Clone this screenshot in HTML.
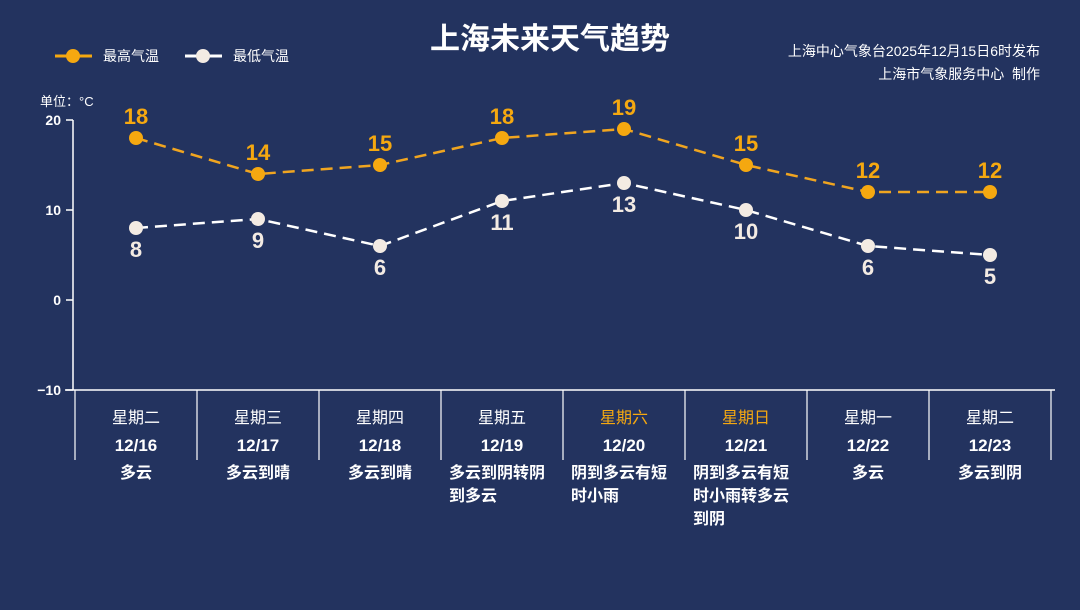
<!DOCTYPE html>
<html><head><meta charset="utf-8"><style>
body{margin:0;width:1080px;height:610px;background:#23335f;overflow:hidden;font-family:"Liberation Sans","Noto Sans CJK SC",sans-serif;color:#fff;position:relative}
.abs{position:absolute}
.col{position:absolute;width:122px;text-align:center}
.wx{position:absolute;width:122px;text-align:center;top:462px}
.wx span{display:inline-block;max-width:106px;text-align:left;font-weight:bold;font-size:16px;line-height:23px}
</style></head><body>
<div class="abs" style="left:0;width:1100px;top:14px;text-align:center;font-size:30px;font-weight:bold">上海未来天气趋势</div>
<div class="abs" style="right:40px;top:40px;text-align:right;font-size:14px;line-height:23px">上海中心气象台2025年12月15日6时发布<br>上海市气象服务中心&nbsp; 制作</div>
<div class="abs" style="left:40px;top:91px;font-size:13px">单位：°C</div>
<svg class="abs" style="left:0;top:0" width="1080" height="610" id="chart"></svg>
<div id="cols"></div>
<script>
const categories=["星期二","星期三","星期四","星期五","星期六","星期日","星期一","星期二"];
const dates=["12/16","12/17","12/18","12/19","12/20","12/21","12/22","12/23"];
const weather=["多云","多云到晴","多云到晴","多云到阴转阴到多云","阴到多云有短时小雨","阴到多云有短时小雨转多云到阴","多云","多云到阴"];
const highs=[18,14,15,18,19,15,12,12];
const lows=[8,9,6,11,13,10,6,5];
const yTicks=[20,10,0,-10];
const NS="http://www.w3.org/2000/svg";
const svg=document.getElementById('chart');
const X=i=>136+i*122;
const Y=v=>300-v*9;
function mk(t,a,p){const e=document.createElementNS(NS,t);for(const k in a)e.setAttribute(k,a[k]);(p||svg).appendChild(e);return e;}
// axes
const ax=mk('line',{x1:73,y1:120,x2:73,y2:390,stroke:'#fff','stroke-width':1.5});


const bx=mk('line',{x1:65,y1:390,x2:1055,y2:390,stroke:'#fff','stroke-width':1.5});


yTicks.forEach(v=>{
 mk('line',{x1:66,y1:Y(v),x2:73,y2:Y(v),stroke:'#fff','stroke-width':1.5});
 const t=mk('text',{x:61,y:Y(v)+5,'text-anchor':'end',fill:'#fff','font-size':14,'font-weight':'bold'});
 t.textContent=v===-10?'−10':v;
 
 
});
for(let i=0;i<=categories.length;i++){
 mk('line',{x1:75+i*122,y1:390,x2:75+i*122,y2:460,stroke:'#fff','stroke-width':1.2});
}
// legend
mk('line',{x1:55,y1:56,x2:92,y2:56,stroke:'#f5a810','stroke-width':3});
const lg1=mk('circle',{cx:73,cy:56,r:7,fill:'#f5a810'});


mk('text',{x:103,y:61,fill:'#fff','font-size':14}).textContent='最高气温';
mk('line',{x1:185,y1:56,x2:222,y2:56,stroke:'#fff','stroke-width':3});
const lg2=mk('circle',{cx:203,cy:56,r:7,fill:'#f3ebe3'});


mk('text',{x:233,y:61,fill:'#fff','font-size':14}).textContent='最低气温';
function series(vals,color,dot,name,above){
 const pl=mk('polyline',{points:vals.map((v,i)=>X(i)+','+Y(v)).join(' '),fill:'none',stroke:color,'stroke-width':2.5,'stroke-dasharray':'12 7'});
 
 
 vals.forEach((v,i)=>{
  const c=mk('circle',{cx:X(i),cy:Y(v),r:7,fill:dot});
  
  
  const t=mk('text',{x:X(i),y:above?Y(v)-14:Y(v)+29,'text-anchor':'middle',fill:above?'#f5a810':'#f3ebe3','font-size':22,'font-weight':'bold'});
  t.textContent=v;
  
  
 });
}
series(highs,'#f0a520','#f5a810','high-temp',true);
series(lows,'#fff','#f3ebe3','low-temp',false);
const cols=document.getElementById('cols');
categories.forEach((c,i)=>{
 const d=document.createElement('div');d.className='col';d.style.left=(75+i*122)+'px';d.style.top='404px';
 
 
 d.innerHTML='<div style="font-size:16px;color:'+(i==4||i==5?'#f5a810':'#fff')+'">'+c+'</div><div style="font-size:17px;font-weight:bold;margin-top:8px">'+dates[i]+'</div>';
 cols.appendChild(d);
 const w=document.createElement('div');w.className='wx';w.style.left=(75+i*122)+'px';
 
 
 w.innerHTML='<span>'+weather[i]+'</span>';
 cols.appendChild(w);
});
</script>
</body></html>
